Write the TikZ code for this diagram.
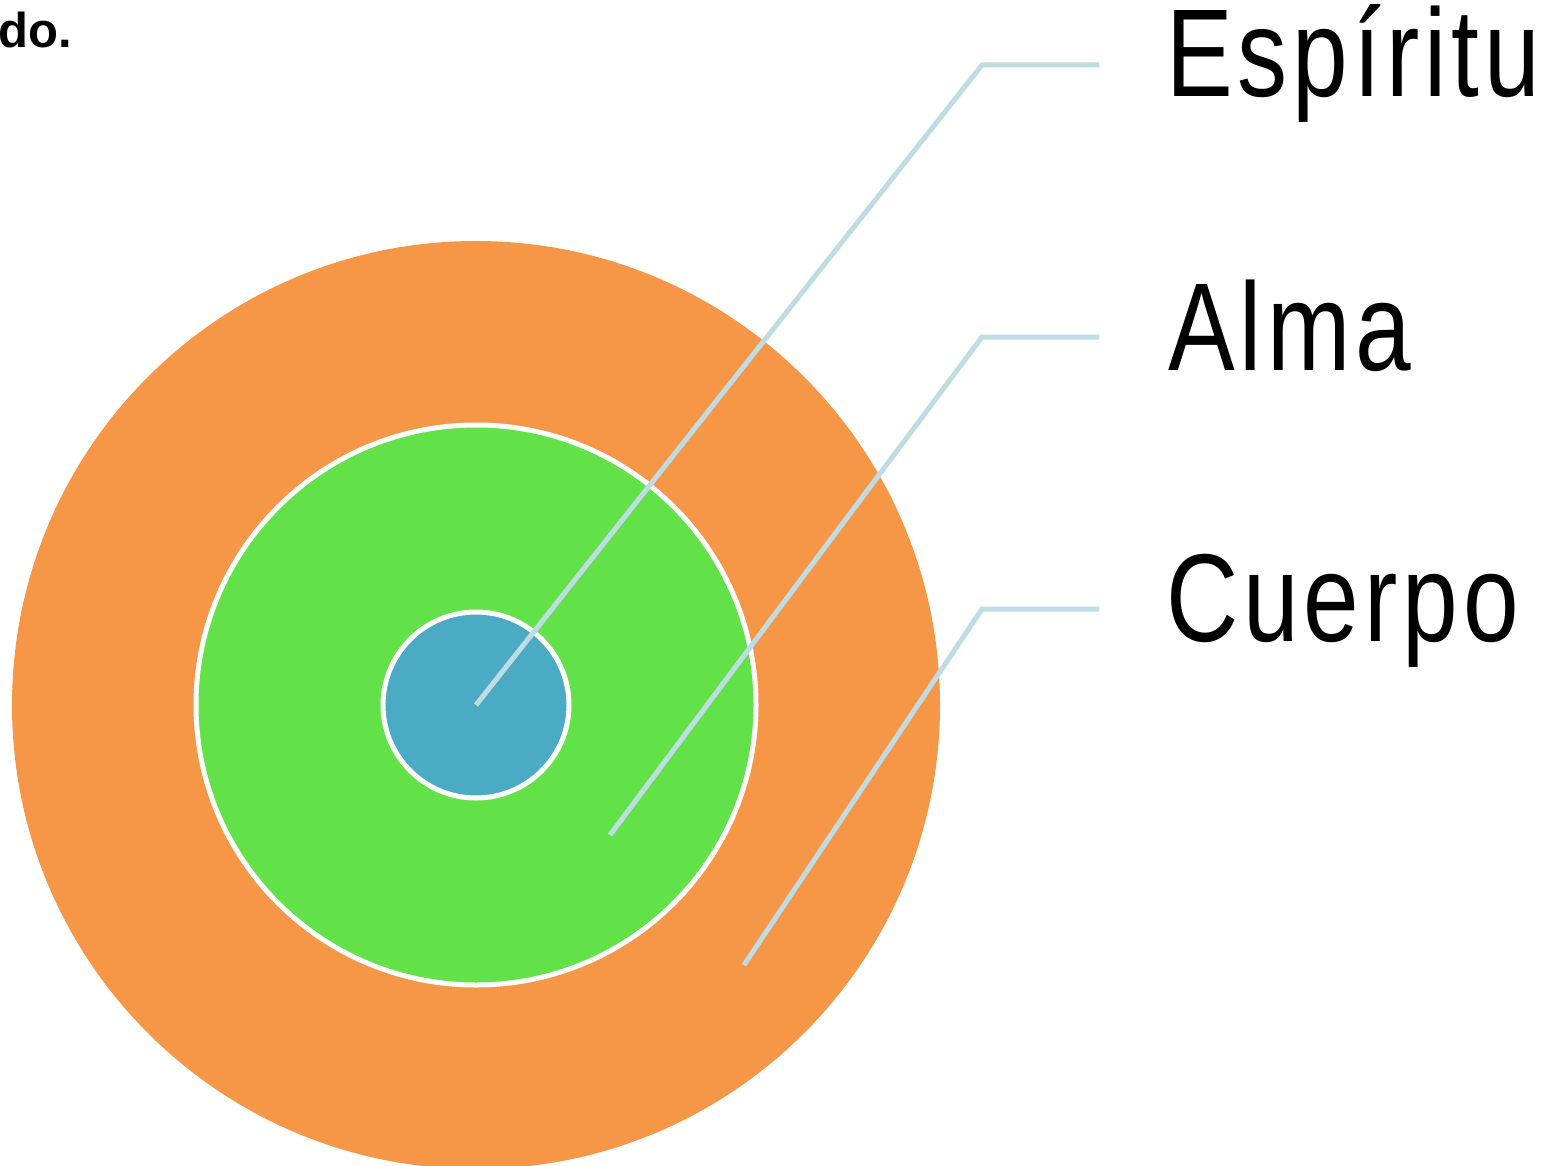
\documentclass[tikz,border=0pt]{standalone}
\usepackage{fontspec}
\setmainfont{Liberation Sans}
\newfontfamily\labelfont[FakeStretch=0.8,LetterSpace=4]{Liberation Sans}
\usetikzlibrary{positioning}

\definecolor{cuerpoorange}{HTML}{F59747}
\definecolor{almagreen}{HTML}{62E248}
\definecolor{espiritublue}{HTML}{4BABC5}
\definecolor{leaderblue}{HTML}{BFDCE4}

\begin{document}
\begin{tikzpicture}[x=1pt,y=-1pt,
		layer/.style={circle, draw=white, line width=5pt, inner sep=0pt},
		leader/.style={draw=leaderblue, line width=5pt},
		tag/.style={font=\labelfont\fontsize{125}{125}\selectfont, anchor=base west, inner sep=0pt}
	]
	\useasboundingbox (0,0) rectangle (1550,1166);
	
	% cut-off text from the page
	\node[font=\bfseries\fontsize{49}{49}\selectfont, anchor=base west, inner sep=0pt] (fragment) at (-2,48) {do.};
	
	\node[layer, draw=none, fill=cuerpoorange, minimum size=928pt] (cuerpo) at (476,705) {};
	\node[layer, fill=almagreen, minimum size=560pt] (alma) at (cuerpo.center) {};
	\node[layer, fill=espiritublue, minimum size=186pt] (espiritu) at (cuerpo.center) {};
	
	\node[tag] (espiritu_t) at (1166,97) {Espíritu};
	\node[tag] (alma_t) at (1168,370) {Alma};
	\node[tag] (cuerpo_t) at (1166,641) {Cuerpo};
	
	\coordinate (espiritu_in) at (espiritu.center);
	\coordinate (espiritu_k) at (982,65);
	\coordinate (espiritu_out) at (1099,65);
	\coordinate (alma_in) at (610,835);
	\coordinate (alma_k) at (982,337);
	\coordinate (alma_out) at (1099,337);
	\coordinate (cuerpo_in) at (744,965);
	\coordinate (cuerpo_k) at (982,609);
	\coordinate (cuerpo_out) at (1099,609);
	
	\draw[leader] (espiritu_in) -- (espiritu_k) -- (espiritu_out);
	\draw[leader] (alma_in) -- (alma_k) -- (alma_out);
	\draw[leader] (cuerpo_in) -- (cuerpo_k) -- (cuerpo_out);
\end{tikzpicture}
\end{document}
